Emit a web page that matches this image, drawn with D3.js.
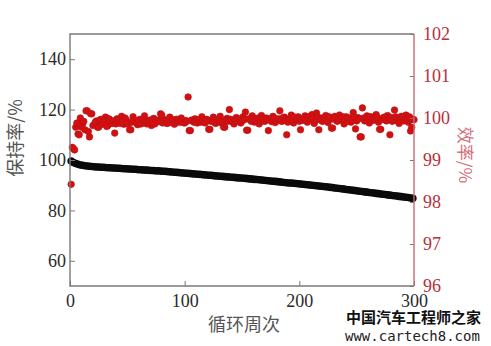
<!DOCTYPE html>
<html>
<head>
<meta charset="utf-8">
<script src="https://cdn.jsdelivr.net/npm/d3@7"></script>
<style>
  body { margin: 0; background: #fff; }
  .tick text { font-family: "Liberation Serif", serif; font-size: 18px; }
</style>
</head>
<body>
<div id="chart"></div>
<script>
// cycle numbers: odd cycles 1..299, even cycles 2..300
var cyclesOdd = d3.range(1, 300, 2);
var cyclesEven = d3.range(2, 301, 2);

// capacity retention (%), left axis, odd cycles
var retention = [
  99.6, 99.0, 98.6, 98.3, 98.0, 97.9, 97.7, 97.6, 97.5, 97.4,
  97.3, 97.25, 97.2, 97.1, 97.1, 97.0, 96.95, 96.9, 96.85, 96.8,
  96.7, 96.7, 96.6, 96.55, 96.5, 96.45, 96.4, 96.3, 96.3, 96.2,
  96.15, 96.1, 96.0, 96.0, 95.9, 95.85, 95.8, 95.7, 95.7, 95.6,
  95.55, 95.5, 95.4, 95.3, 95.25, 95.15, 95.1, 95.0, 94.9, 94.85,
  94.75, 94.7, 94.6, 94.5, 94.45, 94.35, 94.3, 94.2, 94.1, 94.05,
  93.95, 93.9, 93.8, 93.7, 93.65, 93.55, 93.5, 93.4, 93.3, 93.25,
  93.15, 93.1, 93.0, 92.9, 92.85, 92.75, 92.7, 92.6, 92.5, 92.4,
  92.3, 92.25, 92.15, 92.05, 91.95, 91.85, 91.75, 91.65, 91.55, 91.5,
  91.4, 91.3, 91.2, 91.1, 91.0, 90.9, 90.85, 90.75, 90.65, 90.55,
  90.45, 90.35, 90.25, 90.2, 90.1, 90.0, 89.9, 89.8, 89.7, 89.6,
  89.5, 89.4, 89.3, 89.15, 89.05, 88.9, 88.8, 88.7, 88.55, 88.45,
  88.3, 88.2, 88.1, 87.95, 87.85, 87.7, 87.6, 87.5, 87.35, 87.25,
  87.1, 87.0, 86.9, 86.75, 86.65, 86.5, 86.4, 86.3, 86.15, 86.05,
  85.9, 85.8, 85.7, 85.55, 85.45, 85.3, 85.2, 85.1, 84.95, 84.8
];

// coulombic efficiency (%), right axis, odd cycles
var efficiencyOdd = [
  98.42, 99.27, 99.78, 99.62, 100.0, 99.86, 99.72, 100.17, 99.55, 100.1,
  99.84, 99.93, 99.78, 99.97, 99.88, 100.02, 99.82, 99.95, 99.87, 99.64,
  99.98, 99.9, 100.04, 99.85, 99.96, 99.88, 99.72, 100.03, 99.91, 99.84,
  99.97, 99.9, 100.05, 99.86, 99.94, 99.82, 99.99, 99.9, 99.95, 100.1,
  99.88, 99.96, 99.87, 100.02, 99.92, 99.85, 99.97, 99.91, 100.0, 99.89,
  99.94, 100.5, 99.7, 99.93, 99.98, 99.88, 99.95, 100.03, 99.9, 99.97,
  99.73, 99.92, 100.02, 99.87, 99.96, 100.04, 99.9, 99.78, 99.99, 100.2,
  99.93, 99.86, 100.01, 99.95, 99.88, 100.03, 100.14, 99.71, 99.96, 100.05,
  99.9, 99.98, 99.86, 100.06, 99.93, 100.0, 99.7, 99.95, 100.04, 99.89,
  99.97, 100.17, 99.92, 100.02, 99.6, 99.96, 100.07, 99.88, 99.99, 100.03,
  99.72, 99.94, 100.05, 99.9, 99.98, 100.08, 99.87, 100.12, 99.72, 100.0,
  99.93, 100.06, 99.89, 99.98, 99.76, 100.04, 99.92, 100.07, 99.95, 99.86,
  100.03, 99.97, 99.9, 100.13, 99.74, 100.01, 99.55, 100.24, 99.93, 100.05,
  99.88, 100.02, 99.96, 100.08, 99.9, 99.73, 100.0, 99.95, 100.06, 99.6,
  99.92, 100.19, 99.98, 99.87, 100.04, 99.93, 100.07, 99.9, 99.69, 99.97
];

// coulombic efficiency (%), right axis, even cycles
var efficiencyEven = [
  99.3, 99.24, 99.88, 99.6, 99.78, 99.92, 100.17, 99.68, 100.1, 99.82,
  99.9, 99.78, 99.95, 99.85, 99.92, 99.8, 99.98, 99.88, 99.93, 99.86,
  99.95, 99.87, 99.92, 100.0, 99.86, 99.72, 99.9, 99.95, 99.88, 99.93,
  99.86, 99.96, 99.9, 99.88, 99.95, 99.9, 99.86, 99.94, 99.91, 100.07,
  99.93, 99.88, 99.95, 99.9, 99.96, 99.88, 99.93, 99.9, 99.95, 99.88,
  99.92, 99.7, 99.95, 99.9, 99.93, 99.96, 99.9, 99.94, 99.88, 99.95,
  99.73, 99.94, 99.9, 99.96, 99.92, 99.88, 99.78, 99.95, 99.92, 99.97,
  99.9, 99.96, 99.92, 99.98, 99.93, 99.96, 99.71, 99.98, 99.92, 99.97,
  99.95, 100.0, 99.93, 99.97, 99.92, 99.99, 99.95, 99.91, 100.0, 99.94,
  99.98, 99.93, 100.01, 99.95, 99.9, 99.99, 99.94, 100.02, 99.96, 99.92,
  99.97, 100.0, 99.94, 100.03, 99.95, 99.99, 99.93, 100.02, 99.96, 99.92,
  100.0, 99.95, 100.03, 99.76, 99.97, 100.01, 99.94, 99.99, 100.03, 99.95,
  99.92, 100.0, 99.96, 100.02, 99.93, 99.98, 99.55, 100.0, 99.95, 99.99,
  100.03, 99.94, 99.98, 100.01, 99.73, 99.96, 100.02, 99.93, 99.98, 100.01,
  99.95, 100.03, 99.92, 99.98, 100.02, 99.95, 99.99, 100.03, 99.78, 99.96
];

var xTicks = [0, 100, 200, 300];
var leftTicks = [60, 80, 100, 120, 140];
var rightTicks = [96, 97, 98, 99, 100, 101, 102];

var width = 491, height = 346;
var plot = {left: 70, right: 414, top: 34, bottom: 286};

var svg = d3.select("#chart").append("svg")
    .attr("width", width)
    .attr("height", height);

var x = d3.scaleLinear().domain([0, 300]).range([plot.left, plot.right]);
var yL = d3.scaleLinear().domain([50, 150]).range([plot.bottom, plot.top]);
var yR = d3.scaleLinear().domain([96, 102]).range([plot.bottom, plot.top]);

// retention dots (black)
svg.append("g").selectAll("circle")
    .data(retention)
    .enter()
    .append("circle")
    .attr("cx", function (d, i) { return x(cyclesOdd[i]); })
    .attr("cy", function (d) { return yL(d); })
    .attr("r", 3.8)
    .attr("fill", "#0a0a0a");

// efficiency dots (red)
var effPoints = efficiencyOdd.map(function (d, i) { return [cyclesOdd[i], d]; })
    .concat(efficiencyEven.map(function (d, i) { return [cyclesEven[i], d]; }));

svg.append("g").selectAll("circle")
    .data(effPoints)
    .enter()
    .append("circle")
    .attr("cx", function (d) { return x(d[0]); })
    .attr("cy", function (d) { return yR(d[1]); })
    .attr("r", 3.3)
    .attr("fill", "#d4100f")
    .attr("stroke", "#b5121b")
    .attr("stroke-width", 0.6);

// axes
var gL = svg.append("g")
    .attr("transform", "translate(" + plot.left + ",0)")
    .call(d3.axisLeft(yL).tickValues(leftTicks).tickSizeInner(-5).tickSizeOuter(0).tickPadding(4));
gL.selectAll("text").attr("fill", "#2a2a2a");
gL.selectAll("line").attr("stroke", "#777");

var gR = svg.append("g")
    .attr("transform", "translate(" + plot.right + ",0)")
    .call(d3.axisRight(yR).tickValues(rightTicks).tickFormat(d3.format("d"))
        .tickSizeInner(-4).tickSizeOuter(0).tickPadding(9));
gR.selectAll("text").attr("fill", "#b8303a");
gR.selectAll("line").attr("stroke", "#777");

var gB = svg.append("g")
    .attr("transform", "translate(0," + plot.bottom + ")")
    .call(d3.axisBottom(x).tickValues(xTicks).tickSizeInner(-5).tickSizeOuter(0).tickPadding(8));
gB.selectAll("text").attr("fill", "#2a2a2a");
gB.selectAll("line").attr("stroke", "#777");

svg.selectAll(".domain").remove();

// frame
svg.append("path")
    .attr("d", "M" + plot.right + "," + plot.top + "H" + plot.left + "V" + plot.bottom + "H" + plot.right)
    .attr("fill", "none")
    .attr("stroke", "#7a7a7a")
    .attr("stroke-width", 1.4);
svg.append("line")
    .attr("x1", plot.right).attr("x2", plot.right)
    .attr("y1", plot.top).attr("y2", plot.bottom)
    .attr("stroke", "#c86a78")
    .attr("stroke-width", 1.4);

// axis titles
svg.append("text")
    .attr("x", 244).attr("y", 331)
    .attr("text-anchor", "middle")
    .attr("font-family", "Noto Sans CJK SC")
    .attr("font-size", 18)
    .attr("fill", "#555")
    .text("循环周次");

svg.append("text")
    .attr("transform", "translate(22,138) rotate(-90)")
    .attr("text-anchor", "middle")
    .attr("font-family", "Noto Sans CJK SC")
    .attr("font-size", 18)
    .attr("fill", "#555")
    .text("保持率/%");

svg.append("text")
    .attr("transform", "translate(459,155) rotate(90)")
    .attr("text-anchor", "middle")
    .attr("font-family", "Noto Sans CJK SC")
    .attr("font-size", 17)
    .attr("fill", "#d2707a")
    .text("效率/%");

// watermark
svg.append("text")
    .attr("x", 346).attr("y", 323)
    .attr("font-family", "Noto Sans CJK SC")
    .attr("font-weight", "bold")
    .attr("font-size", 15)
    .attr("fill", "#111")
    .text("中国汽车工程师之家");

svg.append("text")
    .attr("x", 345).attr("y", 341)
    .attr("font-family", "DejaVu Sans Mono")
    .attr("font-size", 14)
    .attr("fill", "#222")
    .text("www.cartech8.com");
</script>
</body>
</html>
